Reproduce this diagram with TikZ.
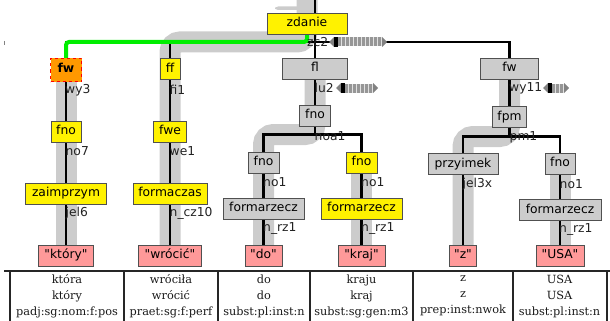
\documentclass[tikz,border=0pt]{standalone}
\usepackage{fontspec}
\newfontfamily\treefont{DejaVu Sans}
\newfontfamily\tablefont{DejaVu Serif}
\usetikzlibrary{calc}

\definecolor{bandgray}{RGB}{204,204,204}
\definecolor{nodegray}{RGB}{204,204,204}
\definecolor{leafpink}{RGB}{255,153,153}
\definecolor{headorange}{RGB}{255,153,0}
\definecolor{edgegreen}{RGB}{0,238,0}
\definecolor{boxline}{RGB}{80,80,80}
\definecolor{arrowgray}{RGB}{130,130,130}
\definecolor{stripegray}{RGB}{150,150,150}
\definecolor{stripelight}{RGB}{225,225,225}
\definecolor{labeltext}{RGB}{34,34,34}

\pgfdeclarelayer{bands}
\pgfdeclarelayer{lines}
\pgfsetlayers{bands,lines,main}

\tikzset{
  pics/stripebar/.style={code={
    \fill[arrowgray] (0,0) -- (5,-5) -- (5,5) -- cycle;
    \fill[black] (5,-5) rectangle (8.5,5);
    \fill[stripelight] (8.5,-4.5) rectangle ({9+4*#1},4.5);
    \foreach \k in {1,...,#1} {\fill[stripegray] ({9+4*(\k-1)},-4.5) rectangle ++(2.5,9);}
    \fill[arrowgray] ({9+4*#1},-5) -- ++(5,5) -- ++(-5,5) -- cycle;
  }}
}

\begin{document}
\begin{tikzpicture}[x=1pt,y=-1pt,
  treetext/.style={font=\treefont\fontsize{12.3}{14}\selectfont},
  box/.style={treetext, draw=boxline, line width=0.9pt, minimum height=21pt,
    inner xsep=2pt, inner ysep=0pt, text height=9pt, text depth=3pt},
  ybox/.style={box, fill=yellow},
  gbox/.style={box, fill=nodegray},
  leaf/.style={box, fill=leafpink},
  headbox/.style={box, fill=headorange, draw=red, dashed, line width=1.1pt,
    minimum height=23pt, font=\treefont\fontsize{12.3}{14}\selectfont\bfseries},
  edge/.style={line width=2.2pt, black},
  greenedge/.style={line width=4pt, edgegreen, rounded corners=3pt},
  band/.style={line width=21pt, bandgray, rounded corners=10pt},
  lab/.style={treetext, anchor=west, inner sep=0pt, text=labeltext},
  cell/.style={font=\tablefont\fontsize{11.3}{16}\selectfont, align=center, text=black!90, inner sep=0pt},
  rule/.style={line width=1.2pt, black!85},
]
\useasboundingbox (0,0) rectangle (610,321);

% junction heights
\coordinate (jz) at (0,42);
\coordinate (ja) at (0,134.5);
\coordinate (jb) at (0,136.5);

% tree nodes
\node[ybox, minimum width=80pt] (zdanie) at (307,23.5) {zdanie};

\node[headbox, minimum width=31pt] (fwl) at (66,70) {fw};
\node[ybox, minimum width=20pt] (ff) at (170,69) {ff};
\node[gbox, minimum width=65pt] (fl) at (315,68.5) {fl};
\node[gbox, minimum width=58pt] (fwr) at (509.5,68.5) {fw};

\node[ybox, minimum width=30pt] (fnoa) at (66,131.5) {fno};
\node[ybox, minimum width=33pt] (fwe) at (170,131.5) {fwe};
\node[gbox, minimum width=31pt] (fnob) at (315,115.5) {fno};
\node[gbox, minimum width=34pt] (fpm) at (509.5,117) {fpm};

\node[gbox, minimum width=31pt] (fnoc) at (263.5,162.5) {fno};
\node[ybox, minimum width=31pt] (fnod) at (361.5,162.5) {fno};
\node[gbox, minimum width=70pt] (przy) at (463,164) {przyimek};
\node[gbox, minimum width=30pt] (fnoe) at (560,163.5) {fno};

\node[ybox, minimum width=81pt] (zaim) at (66,193.5) {zaimprzym};
\node[ybox, minimum width=74pt] (fcz) at (170,193.5) {formaczas};
\node[gbox, minimum width=81pt] (frzc) at (263.5,208.5) {formarzecz};
\node[ybox, minimum width=81pt] (frzd) at (361.5,208.5) {formarzecz};
\node[gbox, minimum width=82pt] (frze) at (560,210) {formarzecz};

\node[leaf, minimum width=55pt] (la) at (66,255.5) {"który"};
\node[leaf, minimum width=63pt] (lb) at (170,255.5) {"wrócić"};
\node[leaf, minimum width=37pt] (lc) at (263.5,255.5) {"do"};
\node[leaf, minimum width=47pt] (ld) at (361.5,255.5) {"kraj"};
\node[leaf, minimum width=27pt] (le) at (463,255.5) {"z"};
\node[leaf, minimum width=48pt] (lf) at (560,255.5) {"USA"};

% head paths
\begin{pgfonlayer}{bands}
  \fill[bandgray, rounded corners=3pt] (275,6.5) rectangle (300,10);
  \draw[band] ($(zdanie.center)+(0,-30)$) -- (zdanie.center)
    -- (zdanie.center |- jz) -- (lb.center |- jz) -- (lb.center);
  \draw[band] (fwl.center) -- (la.center);
  \draw[band] (fl.center) -- (fl.center |- ja) -- (lc.center |- ja) -- (lc.center);
  \draw[band] (fnod.center) -- (ld.center);
  \draw[band] (fwr.center) -- (fwr.center |- jb) -- (le.center |- jb) -- (le.center);
  \draw[band] (fnoe.center) -- (lf.center);
\end{pgfonlayer}

% tree edges
\begin{pgfonlayer}{lines}
  \draw[edge] (zdanie.north -| fl.center) -- ++(0,-16);
  \draw[edge] (zdanie.south -| fl.center) -- (fl.center);
  \draw[edge] (fwl.center) |- (fwr.center |- jz) -- (fwr.center);
  \draw[edge] (ff.center |- jz) -- (ff.center) -- (fwe.center) -- (fcz.center) -- (lb.center);
  \draw[edge] (fwl.center) -- (fnoa.center) -- (zaim.center) -- (la.center);
  \draw[edge] (fl.center) -- (fnob.center) -- (fnob.center |- ja);
  \draw[edge] (fnoc.center) |- (fnod.center |- ja) -- (fnod.center);
  \draw[edge] (fnoc.center) -- (frzc.center) -- (lc.center);
  \draw[edge] (fnod.center) -- (frzd.center) -- (ld.center);
  \draw[edge] (fwr.center) -- (fpm.center) -- (fpm.center |- jb);
  \draw[edge] (przy.center) |- (fnoe.center |- jb) -- (fnoe.center);
  \draw[edge] (przy.center) -- (le.center);
  \draw[edge] (fnoe.center) -- (frze.center) -- (lf.center);
  \draw[greenedge] (zdanie.center) -- (zdanie.center |- jz) -- (fwl.center |- jz) -- (fwl.center);
\end{pgfonlayer}

% edge labels
\node[lab] (lzc) at (307,42) {zc2};
\node[lab] at (65,90) {wy3};
\node[lab] at (169.5,90) {fi1};
\node[lab] (llu) at (314.5,88) {lu2};
\node[lab] (lwy) at (509,88) {wy11};
\node[lab] at (65.5,151) {no7};
\node[lab] at (169.5,151) {we1};
\node[lab] at (314.5,136) {noa1};
\node[lab] at (509.5,137) {pm1};
\node[lab] at (263,182) {no1};
\node[lab] at (361,182) {no1};
\node[lab] at (462.5,184) {jel3x};
\node[lab] at (559.5,184) {no1};
\node[lab] at (65.5,213) {jel6};
\node[lab] at (169.5,213) {n\_cz10};
\node[lab] at (263,228) {n\_rz1};
\node[lab] at (361,228) {n\_rz1};
\node[lab] at (559,229) {n\_rz1};

% sibling scroll markers
\pic at (329,42) {stripebar=11};
\pic at (336,88) {stripebar=7};
\pic at (543,88) {stripebar=3};

\draw[arrowgray, line width=0.8pt] (4,41) -- (4,45);

% morphology table
\draw[rule] (4,271) -- (610,271);
\draw[line width=2pt, black!85] (9.5,271) -- (9.5,321);
\foreach \xx in {124,218,310,413,513} {\draw[rule] (\xx,271) -- (\xx,321);}
\draw[line width=2pt, black!85] (606.5,271) -- (606.5,321);

\node[cell] (ta) at (67,296) {która\\który\\padj:sg:nom:f:pos};
\node[cell] (tb) at (171,296) {wróciła\\wrócić\\praet:sg:f:perf};
\node[cell] (tc) at (264,296) {do\\do\\subst:pl:inst:n};
\node[cell] (td) at (361.5,296) {kraju\\kraj\\subst:sg:gen:m3};
\node[cell] (te) at (463,296) {z\\z\\prep:inst:nwok};
\node[cell] (tf) at (559.5,296) {USA\\USA\\subst:pl:inst:n};
\end{tikzpicture}
\end{document}
